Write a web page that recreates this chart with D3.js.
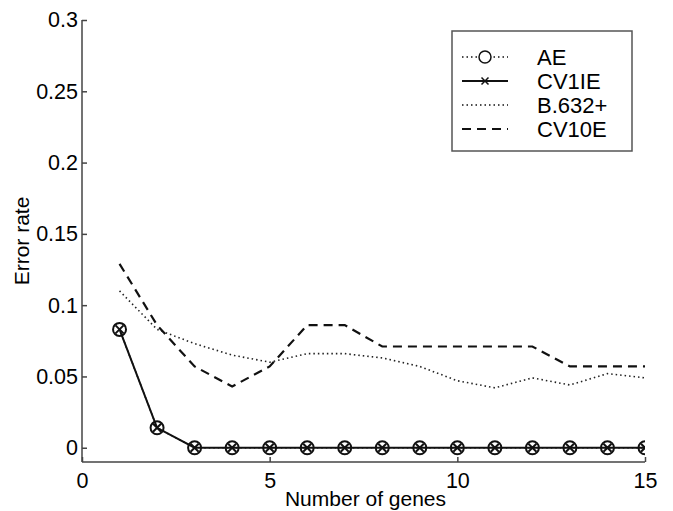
<!DOCTYPE html>
<html>
<head>
<meta charset="utf-8">
<script src="https://cdn.jsdelivr.net/npm/d3@7"></script>
<style>
  body { margin: 0; background: #fff; }
  text { font-family: "Liberation Sans", Arial, sans-serif; fill: #000; }
</style>
</head>
<body>
<div id="chart"></div>
<script>
// data
var genes = [1, 2, 3, 4, 5, 6, 7, 8, 9, 10, 11, 12, 13, 14, 15];
var ae     = [0.083, 0.014, 0, 0, 0, 0, 0, 0, 0, 0, 0, 0, 0, 0, 0];
var cv1ie  = [0.083, 0.014, 0, 0, 0, 0, 0, 0, 0, 0, 0, 0, 0, 0, 0];
var b632   = [0.110, 0.083, 0.073, 0.065, 0.060, 0.066, 0.066, 0.063, 0.057, 0.047, 0.042, 0.049, 0.044, 0.052, 0.049];
var cv10e  = [0.129, 0.086, 0.057, 0.043, 0.057, 0.086, 0.086, 0.071, 0.071, 0.071, 0.071, 0.071, 0.057, 0.057, 0.057];
var xTicks = [0, 5, 10, 15];
var yTicks = [0, 0.05, 0.1, 0.15, 0.2, 0.25, 0.3];
var legendNames = ["AE", "CV1IE", "B.632+", "CV10E"];

var svgW = 673, svgH = 511;
var plotL = 82, plotR = 645, plotT = 20, plotB = 462;

var x = d3.scaleLinear().domain([0, 15]).range([plotL, plotR]);
var y = d3.scaleLinear().domain([-0.01, 0.3]).range([plotB, plotT]);

var svg = d3.select('#chart').append('svg')
    .attr('width', svgW)
    .attr('height', svgH);

svg.append('defs').append('clipPath').attr('id', 'plot')
  .append('rect')
    .attr('x', plotL).attr('y', plotT - 10)
    .attr('width', plotR - plotL).attr('height', plotB - plotT + 10);

// axes (inward ticks, MATLAB style)
var yAxis = svg.append('g')
    .attr('transform', 'translate(' + plotL + ',0)')
    .call(d3.axisRight(y).tickValues(yTicks).tickSize(5).tickFormat(d3.format('')));
yAxis.select('.domain').attr('d', 'M0,' + plotT + 'V' + plotB);
yAxis.selectAll('text')
    .attr('x', -4).attr('text-anchor', 'end')
    .style('font-size', '21.5px');

var xAxis = svg.append('g')
    .attr('transform', 'translate(0,' + plotB + ')')
    .call(d3.axisTop(x).tickValues(xTicks).tickSize(5));
xAxis.select('.domain').attr('d', 'M' + plotL + ',0H' + plotR);
xAxis.selectAll('text')
    .attr('y', 26).attr('dy', 0)
    .style('font-size', '21.5px');

svg.selectAll('.tick text').attr('fill', '#000');
svg.selectAll('.domain, .tick line').attr('stroke', '#444').attr('stroke-width', 1.5);

svg.append('text')
    .attr('x', (plotL + plotR) / 2 + 2).attr('y', 506)
    .attr('text-anchor', 'middle')
    .style('font-size', '21px')
    .text('Number of genes');

svg.append('text')
    .attr('transform', 'translate(29,' + ((plotT + plotB) / 2) + ') rotate(-90)')
    .attr('text-anchor', 'middle')
    .style('font-size', '21px')
    .text('Error rate');

// series
var line = d3.line().x(function (d, i) { return x(genes[i]); }).y(function (d) { return y(d); });
var plot = svg.append('g').attr('clip-path', 'url(#plot)');

plot.append('path').datum(b632)
    .attr('d', line).attr('fill', 'none')
    .attr('stroke', '#222').attr('stroke-width', 1.6).attr('stroke-dasharray', '1.5,3');

plot.append('path').datum(cv10e)
    .attr('d', line).attr('fill', 'none')
    .attr('stroke', '#111').attr('stroke-width', 2.2).attr('stroke-dasharray', '9,6');

plot.append('path').datum(ae)
    .attr('d', line).attr('fill', 'none')
    .attr('stroke', '#111').attr('stroke-width', 1.5).attr('stroke-dasharray', '1.5,3');

plot.append('path').datum(cv1ie)
    .attr('d', line).attr('fill', 'none')
    .attr('stroke', '#111').attr('stroke-width', 2);

// AE circles
plot.selectAll('circle.ae').data(ae).enter().append('circle')
    .attr('class', 'ae')
    .attr('cx', function (d, i) { return x(genes[i]); })
    .attr('cy', function (d) { return y(d); })
    .attr('r', 6.5)
    .attr('fill', 'none').attr('stroke', '#111').attr('stroke-width', 2);

// CV1IE crosses
var cross = function (s) { return 'M' + -s + ',' + -s + 'L' + s + ',' + s + 'M' + -s + ',' + s + 'L' + s + ',' + -s; };
plot.selectAll('path.cv').data(cv1ie).enter().append('path')
    .attr('class', 'cv')
    .attr('transform', function (d, i) { return 'translate(' + x(genes[i]) + ',' + y(d) + ')'; })
    .attr('d', cross(4))
    .attr('stroke', '#111').attr('stroke-width', 2);

// legend
var lg = svg.append('g');
lg.append('rect')
    .attr('x', 452).attr('y', 31).attr('width', 180).attr('height', 120)
    .attr('fill', '#fff').attr('stroke', '#555').attr('stroke-width', 1.5);

var rows = lg.selectAll('g.row').data(legendNames).enter().append('g')
    .attr('class', 'row')
    .attr('transform', function (d, i) { return 'translate(0,' + (57 + i * 24) + ')'; });

rows.append('line')
    .attr('x1', 462).attr('x2', 508).attr('y1', 0).attr('y2', 0)
    .attr('stroke', '#111')
    .attr('stroke-width', function (d, i) { return i === 1 ? 2 : (i === 3 ? 2.2 : 1.5); })
    .attr('stroke-dasharray', function (d, i) { return i === 1 ? null : (i === 3 ? '9,6' : '1.5,3'); });

rows.filter(function (d, i) { return i === 0; }).append('circle')
    .attr('cx', 485).attr('cy', 0).attr('r', 6)
    .attr('fill', '#fff').attr('stroke', '#111').attr('stroke-width', 1.5);
rows.filter(function (d, i) { return i === 1; }).append('path')
    .attr('transform', 'translate(485,0)')
    .attr('d', cross(3.5))
    .attr('stroke', '#111').attr('stroke-width', 1.5);

rows.append('text')
    .attr('x', 537).attr('y', 0).attr('dy', '0.36em')
    .style('font-size', '22px')
    .text(function (d) { return d; });
</script>
</body>
</html>
